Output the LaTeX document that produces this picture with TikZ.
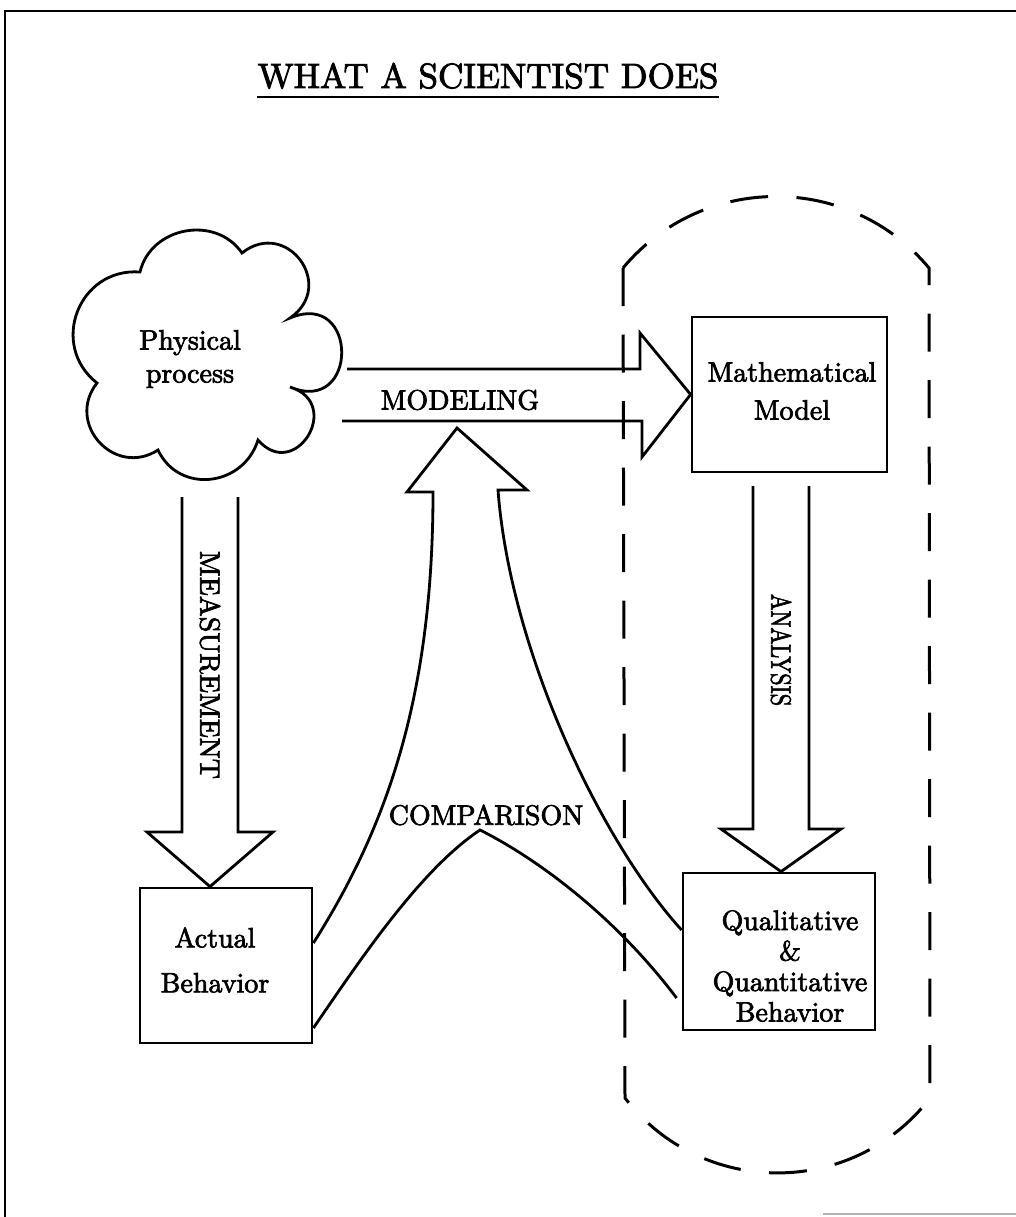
\documentclass[tikz,border=0pt]{standalone}
\usepackage{fontspec}
\newfontfamily\diagfont{lmroman10-regular.otf}[FakeBold=2.5]
\usetikzlibrary{calc}
\begin{document}
\begin{tikzpicture}[x=1pt,y=1pt,yscale=-1,
  line join=miter,
  outline/.style={line width=2.8pt},
  boxnode/.style={draw, line width=2.8pt, inner sep=0pt},
  lbl/.style={inner sep=0pt, align=center, font=\diagfont\fontsize{28}{33}\selectfont},
  capsule/.style={line width=3pt, dash pattern=on 38pt off 28.5pt},
]
\useasboundingbox (0,0) rectangle (1016,1217);

% page frame
\draw[line width=2.2pt] (1016,11) -- (5,11) -- (5,1217);
\draw[line width=1.5pt, gray!60] (823,1214) -- (1016,1214);

% title
\node[inner sep=0pt, anchor=base, font=\diagfont\fontsize{35.1}{40}\selectfont] (title) at (488,88) {WHAT A SCIENTIST DOES};
\draw[line width=2.2pt] ($(title.base west)+(0,9)$) -- ($(title.base east)+(0,9)$);

% dashed enclosure of the mathematical side
\draw[capsule] (623,268) -- (625,1098)
  to[out=52.4,in=127.6,looseness=1.06] (930,1098) -- (929,268)
  to[out=230.2,in=309.8,looseness=1.04] (623,268);

% physical process cloud
\coordinate (phys) at (210,358);
\draw[outline] (97,383) to[out=-141.8,in=184.2,looseness=1.32] (140,272)
  to[out=-76.6,in=235.4,looseness=1.15] (242,253)
  to[out=-38.4,in=-34.4,looseness=1.8] (290,318)
  to[out=-22.8,in=22.8,looseness=2.78] (290,387)
  to[out=17,in=49,looseness=2.34] (258,440)
  to[out=107.2,in=64.8,looseness=1.25] (158,450)
  to[out=147.2,in=128.2,looseness=1.46] (97,383) -- cycle;
\node[lbl] (physlbl) at (190,359) {Physical\\process};

% boxes
\node[boxnode, minimum width=195pt, minimum height=155pt] (mm) at (789.5,394.5) {};
\node[lbl, font=\diagfont\fontsize{28}{38}\selectfont] (mmlbl) at (792,391) {Mathematical\\Model};

\node[boxnode, minimum width=192pt, minimum height=157pt] (qual) at (779,951.5) {};
\node[lbl, font=\diagfont\fontsize{28}{30.5}\selectfont] (quallbl) at (790,966) {Qualitative\\\&\\Quantitative\\Behavior};

\node[boxnode, minimum width=172pt, minimum height=155pt] (act) at (226,965.5) {};
\node[lbl, font=\diagfont\fontsize{28}{45}\selectfont] (actlbl) at (215,960) {Actual\\Behavior};

% MODELING: cloud to model
\draw[outline] (347,369) -| (640,333) -- (mm.west) -- (642,457) |- (342,421);
\node[lbl] (modlbl) at (460,400) {MODELING};

% MEASUREMENT: cloud to actual behavior
\draw[outline] (182,497) |- (147,832) -- (act.north -| phys) -- (273,832) -| (238,497);
\node[lbl, rotate=-90] (measlbl) at (210,665) {MEASUREMENT};

% ANALYSIS: model to qualitative and quantitative behavior
\coordinate (antip) at ($(qual.north)+(2,0)$);
\draw[outline] (753,486) |- (721,829) -- (antip) -- (841,829) -| (809,486);
\node[lbl, rotate=-90] (anlbl) at (781,650) {\scalebox{0.8}[1]{ANALYSIS}};

% feedback into the modeling step
\coordinate (uptip) at (457,428);
\draw[outline] ($(act.east)+(0,-22.5)$) .. controls (385,830) and (433,700) .. (433,492)
  -- (407,492) -- (uptip) -- (527,490) -- (498,490)
  .. controls (510,650) and (600,840) .. ($(qual.west)+(0,-21.5)$);

% COMPARISON
\coordinate (cmppeak) at (480,830);
\draw[outline] ($(act.east)+(0,62.5)$) .. controls (360,960) and (420,870) .. (cmppeak)
  .. controls (530,855) and (610,910) .. ($(qual.west)+(-5,46.5)$);
\node[lbl] (cmplbl) at (486,815) {COMPARISON};
\end{tikzpicture}
\end{document}
